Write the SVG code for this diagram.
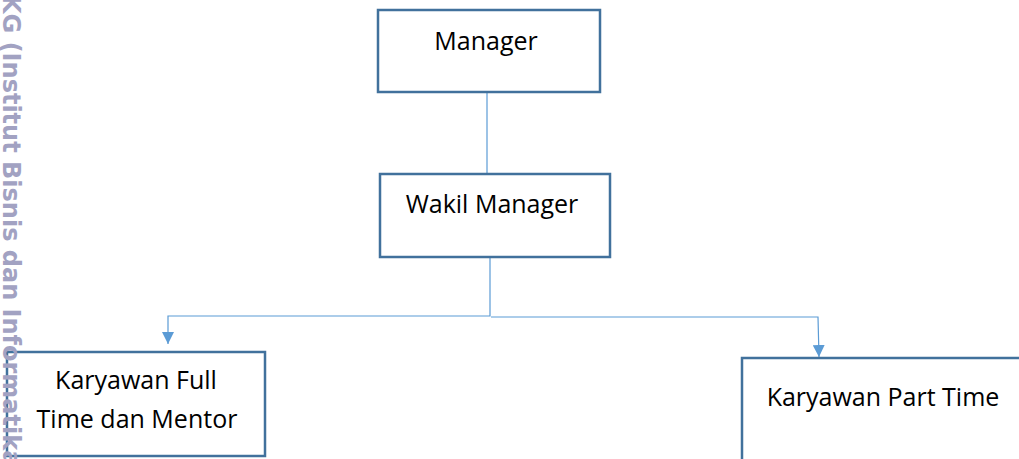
<svg xmlns="http://www.w3.org/2000/svg" width="1019" height="459" viewBox="0 0 1019 459">
<style>
.box{fill:#ffffff;stroke:#41719c;stroke-width:2.5}
.lbl{font-family:"Open Sans","Noto Sans",sans-serif;font-size:25px;fill:#000000;text-anchor:middle}
.conn{fill:none;stroke:#5b9bd5;stroke-width:1.2}
.wm{font-family:"DejaVu Sans",sans-serif;font-weight:bold;font-size:24px;fill:#a2a2c2}
</style>
<defs>
<marker id="arr" viewBox="0 0 10 10" refX="10" refY="5" markerWidth="12" markerHeight="12" markerUnits="userSpaceOnUse" orient="auto">
<path d="M0,0 L10,5 L0,10 Z" fill="#5b9bd5"/>
</marker>
</defs>
<rect width="1019" height="459" fill="#ffffff"/>
<g id="connectors">
<line class="conn" x1="487" y1="92" x2="487" y2="174"/>
<polyline class="conn" points="490,258 490,316 168,316 168,344" marker-end="url(#arr)"/>
<polyline class="conn" points="491,317 818,317 819,357" marker-end="url(#arr)"/>
</g>
<g id="manager">
<rect class="box" x="378" y="10" width="222" height="82"/>
<text class="lbl" x="486" y="50">Manager</text>
</g>
<g id="wakil-manager">
<rect class="box" x="380" y="174" width="230" height="83"/>
<text class="lbl" x="492" y="213">Wakil Manager</text>
</g>
<g id="karyawan-full-time">
<rect class="box" x="7" y="352" width="258" height="104"/>
<text class="lbl" x="136" y="389">Karyawan Full</text>
<text class="lbl" x="137" y="428">Time dan Mentor</text>
</g>
<g id="karyawan-part-time">
<rect class="box" x="742" y="358" width="290" height="120"/>
<text class="lbl" x="883" y="406">Karyawan Part Time</text>
</g>
<text class="wm" transform="translate(3,-5) rotate(90)">KG (Institut Bisnis dan Informatika</text>
</svg>
